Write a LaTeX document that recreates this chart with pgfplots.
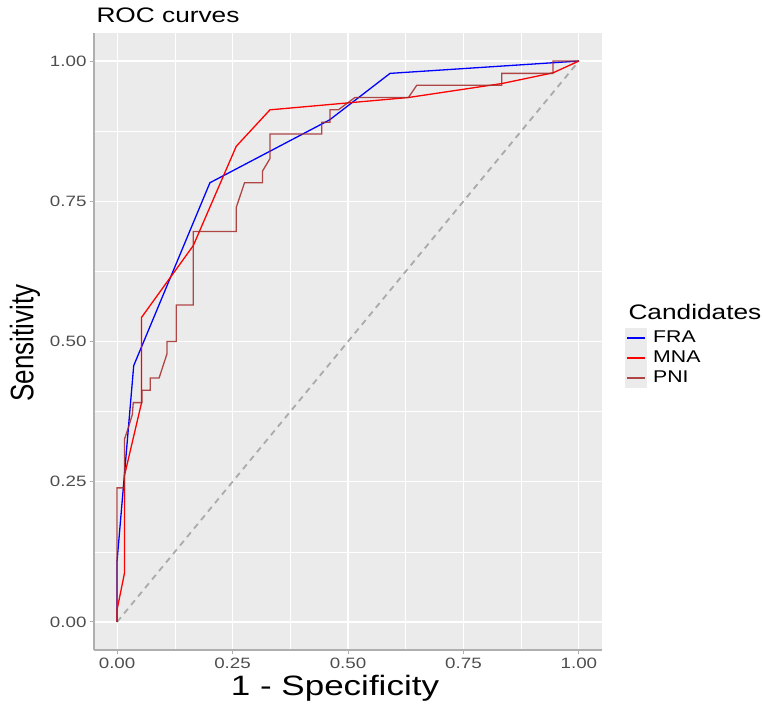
\documentclass[border=0pt]{standalone}
\usepackage{pgfplots}
\pgfplotsset{compat=1.18}
\usepackage{fontspec}
\setmainfont{Liberation Sans}

\definecolor{panelbg}{RGB}{235,235,235}
\definecolor{ticktext}{RGB}{77,77,77}
\definecolor{diaggray}{RGB}{170,170,170}
\definecolor{axisgray}{RGB}{175,175,175}
\definecolor{pnibrown}{RGB}{165,42,42}
% the reference text is stretched sideways
\newcommand{\wide}[1]{\scalebox{1.25}[1]{#1}}

\begin{document}
\begin{tikzpicture}
\useasboundingbox (0,0) rectangle (763pt,707pt);
\begin{axis}[
  at={(94pt,57pt)}, anchor=south west,
  width=508pt, height=617pt, scale only axis,
  xmin=-0.05, xmax=1.05, ymin=-0.05, ymax=1.05,
  axis background/.style={fill=panelbg},
  axis x line*=bottom, axis y line*=left,
  axis line style={-, draw=axisgray, line width=1.2pt},
  xtick={0,0.25,0.5,0.75,1}, ytick={0,0.25,0.5,0.75,1},
  xticklabels={\wide{0.00},\wide{0.25},\wide{0.50},\wide{0.75},\wide{1.00}},
  yticklabels={\wide{0.00},\wide{0.25},\wide{0.50},\wide{0.75},\wide{1.00}},
  minor xtick={0.125,0.375,0.625,0.875},
  minor ytick={0.125,0.375,0.625,0.875},
  grid=both,
  major grid style={white, line width=1.1pt},
  minor grid style={white, line width=0.5pt},
  tick align=outside, major tick length=4pt, minor tick length=0pt,
  tick style={axisgray, line width=1pt},
  ticklabel style={font=\fontsize{15}{15}\selectfont, text=ticktext},
]
\addplot[diaggray, dash pattern=on 6pt off 5pt, line width=1.8pt]
  coordinates {(0,0)(1,1)};

% FRA
\addplot[blue, line width=1.3pt] coordinates {
  (0,0)(0,0.109)(0.036,0.457)(0.201,0.783)(0.46,0.895)(0.591,0.978)(1,1)};

% MNA
\addplot[red, line width=1.3pt] coordinates {
  (0,0)(0,0.022)(0.016,0.087)(0.016,0.261)(0.053,0.391)(0.053,0.543)
  (0.165,0.671)(0.258,0.848)(0.331,0.913)(0.631,0.935)(0.834,0.960)
  (0.944,0.979)(1,1)};

% PNI
\addplot[pnibrown, opacity=0.85, line width=1.3pt] coordinates {
  (0,0)(0,0.239)(0.016,0.239)(0.016,0.326)(0.025,0.348)(0.033,0.370)
  (0.035,0.391)(0.054,0.391)(0.054,0.413)(0.072,0.413)(0.072,0.435)
  (0.091,0.435)(0.108,0.478)(0.108,0.500)(0.128,0.500)(0.128,0.565)
  (0.165,0.565)(0.165,0.696)(0.258,0.696)(0.258,0.739)(0.276,0.783)
  (0.315,0.783)(0.315,0.804)(0.331,0.826)(0.331,0.870)(0.443,0.870)
  (0.443,0.891)(0.461,0.891)(0.461,0.913)(0.479,0.913)(0.515,0.935)
  (0.631,0.935)(0.649,0.957)(0.833,0.957)(0.833,0.978)(0.944,0.978)
  (0.944,1)(1,1)};
\end{axis}

% titles
\node[anchor=base west, font=\fontsize{21}{21}\selectfont] at (93pt,684pt) {\wide{ROC curves}};
\node[rotate=90, font=\fontsize{26}{26}\selectfont] at (25pt,364pt) {\scalebox{1}[1.25]{Sensitivity}};
\node[anchor=base, font=\fontsize{28}{28}\selectfont] at (335pt,12pt) {\wide{1 - Specificity}};

% legend
\node[anchor=base west, font=\fontsize{21}{21}\selectfont] at (625pt,387.5pt) {\wide{Candidates}};
\fill[panelbg] (625pt,319pt) rectangle (647pt,379pt);
\draw[blue, line width=1.3pt] (627pt,369pt) -- (645pt,369pt);
\draw[red, line width=1.3pt] (627pt,349pt) -- (645pt,349pt);
\draw[pnibrown, opacity=0.85, line width=1.3pt] (627pt,329pt) -- (645pt,329pt);
\begin{scope}[every node/.style={anchor=base west, font=\fontsize{17}{17}\selectfont, inner sep=0pt}]
\node at (653pt,364pt) {\wide{FRA}};
\node at (653pt,344pt) {\wide{MNA}};
\node at (653pt,324pt) {\wide{PNI}};
\end{scope}
\end{tikzpicture}
\end{document}
